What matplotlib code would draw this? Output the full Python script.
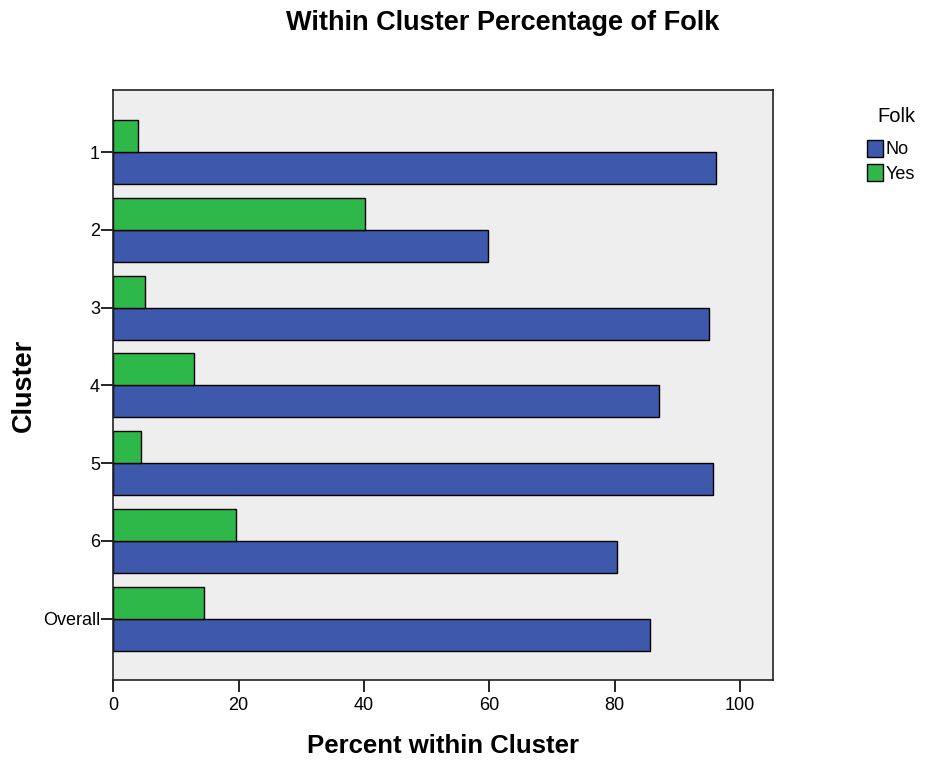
import matplotlib
matplotlib.use("Agg")
import matplotlib.pyplot as plt
import numpy as np

plt.rcParams['font.family'] = ['Liberation Sans', 'DejaVu Sans']

categories = ["1", "2", "3", "4", "5", "6", "Overall"]
pct_no = [96.1, 59.8, 95.0, 87.1, 95.6, 80.4, 85.6]
pct_yes = [3.9, 40.2, 5.0, 12.9, 4.4, 19.6, 14.4]
series_names = ["No", "Yes"]
colors = {"No": "#3E58AC", "Yes": "#2EB84A"}

fig = plt.figure(figsize=(9.26, 7.60), dpi=100)
ax = fig.add_axes([113.3 / 926, 1 - 680 / 760, (772.7 - 113.3) / 926, (680 - 90) / 760])
ax.set_facecolor("#EEEEEE")

y = np.arange(len(categories))
h = 0.411
ax.barh(y, pct_no, height=h, align='edge', color=colors["No"],
        edgecolor='black', linewidth=1.0, label="No", zorder=2)
ax.barh(y - h, pct_yes, height=h, align='edge', color=colors["Yes"],
        edgecolor='black', linewidth=1.0, label="Yes", zorder=2)

ax.set_ylim(len(categories) - 1 + 0.79, -0.8)
ax.set_xlim(0, 105.2)
ax.set_yticks(y)
ax.set_yticklabels(categories)
ax.set_xticks([0, 20, 40, 60, 80, 100])
ax.tick_params(axis='both', direction='out', length=8.5, width=1.2, labelsize=13, color='black')
ax.tick_params(axis='y', pad=1)
ax.tick_params(axis='x', pad=4)
for s in ax.spines.values():
    s.set_linewidth(1.2)
    s.set_color('#222222')

ax.set_xlabel("Percent within Cluster", fontsize=18.5, fontweight='bold', labelpad=14)
ax.set_ylabel("Cluster", fontsize=19.5, fontweight='bold', labelpad=4)

fig.text(503 / 926, 1 - 23.5 / 760, "Within Cluster Percentage of Folk",
         ha='center', va='center', fontsize=19.5, fontweight='bold')

handles, labels = ax.get_legend_handles_labels()
order = [labels.index(n) for n in series_names]
leg = fig.legend([handles[i] for i in order], [labels[i] for i in order],
                 loc='upper left', bbox_to_anchor=(867 / 926, 1 - 139.5 / 760),
                 frameon=False, fontsize=13,
                 handlelength=0.9, handleheight=1.1, handletextpad=0.12,
                 labelspacing=0.32, borderpad=0, borderaxespad=0)
fig.text(896 / 926, 1 - 116.5 / 760, "Folk", ha='center', va='center', fontsize=14.5)

fig.savefig("out.png", dpi=100)
